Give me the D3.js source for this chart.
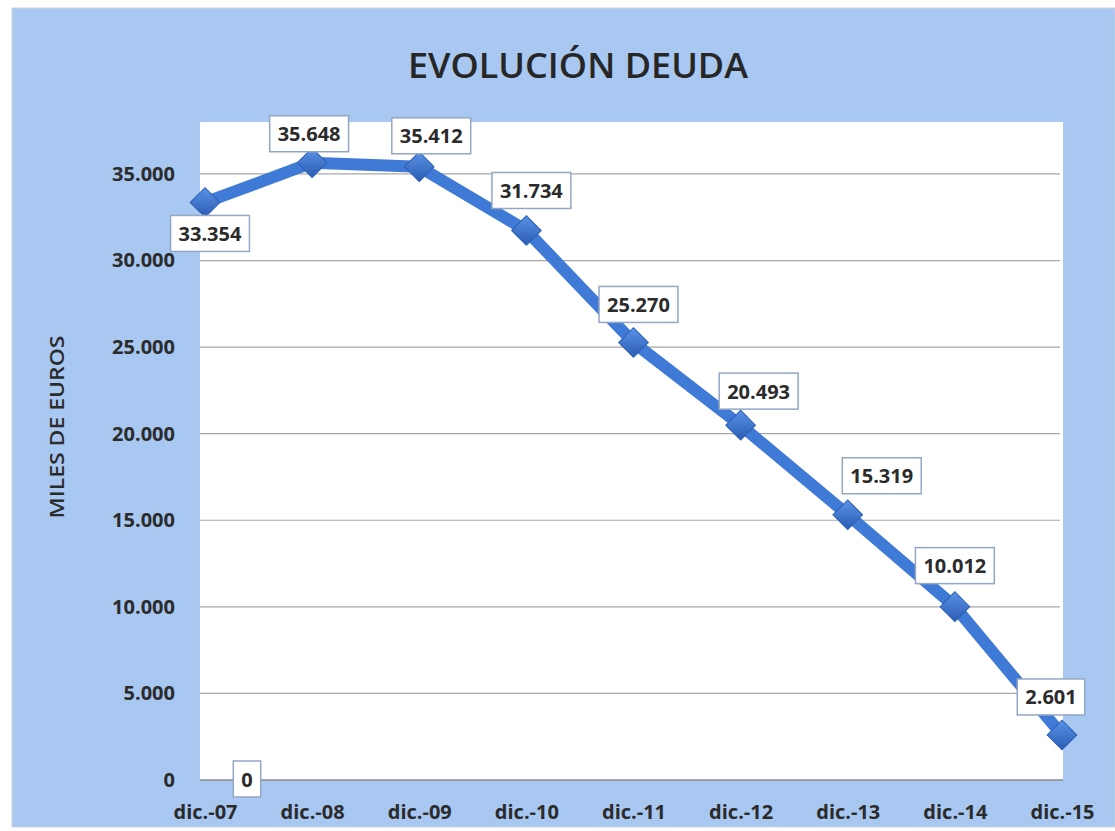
<!DOCTYPE html>
<html>
<head>
<meta charset="utf-8">
<script src="https://cdn.jsdelivr.net/npm/d3@7"></script>
<style>
  html, body { margin: 0; padding: 0; background: #ffffff; }
  svg { display: block; }
</style>
</head>
<body>
<svg id="chart" width="1115" height="831"></svg>
<script>
// ---- Data ----
const categories = ["dic.-07", "dic.-08", "dic.-09", "dic.-10", "dic.-11", "dic.-12", "dic.-13", "dic.-14", "dic.-15"];
const deuda = [33354, 35648, 35412, 31734, 25270, 20493, 15319, 10012, 2601];
const extraCategories = ["dic.-07"];
const extraValues = [0];
const yTicks = [0, 5000, 10000, 15000, 20000, 25000, 30000, 35000];
const titleText = "EVOLUCIÓN DEUDA";
const yAxisTitle = "MILES DE EUROS";

// ---- Layout (label offsets from the point, in px) ----
const labelOffsets = [[5, 31], [-3, -29], [12, -31], [5, -40], [5, -38], [18, -34], [34, -39], [0, -41], [-11, -38]];
const extraOffsets = [[42, -1]];

const W = 1115, H = 831;
const plot = { left: 200, right: 1063, top: 122, bottom: 780 };
const FONT = "Open Sans, sans-serif";

const svg = d3.select("#chart");
const defs = svg.append("defs");

// marker gradient
const grad = defs.append("linearGradient").attr("id", "mk").attr("x1", "0").attr("y1", "0").attr("x2", "1").attr("y2", "1");
grad.append("stop").attr("offset", "0%").attr("stop-color", "#5b93e6");
grad.append("stop").attr("offset", "100%").attr("stop-color", "#2a5cb3");

// outer chart background
svg.append("rect").attr("x", 12).attr("y", 8).attr("width", W - 12).attr("height", 819)
  .attr("fill", "#a8c7f1").attr("stroke", "#c9d3de").attr("stroke-width", 1);

// plot area
svg.append("rect").attr("x", plot.left).attr("y", plot.top)
  .attr("width", plot.right - plot.left).attr("height", plot.bottom - plot.top)
  .attr("fill", "#ffffff");

const fmt = v => d3.format(",")(v).replace(/,/g, ".");

const x = d3.scalePoint().domain(categories).range([205, 1062]);
const y = d3.scaleLinear().domain([0, 38000]).range([plot.bottom, plot.top]);

// gridlines
svg.append("g").selectAll("line").data(yTicks.filter(t => t > 0)).join("line")
  .attr("x1", plot.left).attr("x2", plot.right - 3)
  .attr("y1", d => y(d)).attr("y2", d => y(d))
  .attr("stroke", "#a8a8a8").attr("stroke-width", 1.2);

// y axis
const yAxis = d3.axisLeft(y).tickValues(yTicks).tickFormat(fmt).tickSize(0).tickPadding(25);
const gy = svg.append("g").attr("transform", `translate(${plot.left},0)`).call(yAxis);
gy.select(".domain").remove();
gy.selectAll("text").attr("font-family", FONT).attr("font-weight", "bold")
  .attr("font-size", 20).attr("fill", "#2b2b2b");

// x axis
const xAxis = d3.axisBottom(x).tickSize(0).tickPadding(25);
const gx = svg.append("g").attr("transform", `translate(0,${plot.bottom})`).call(xAxis);
gx.select(".domain").attr("d", `M${plot.left},0H${plot.right}`).attr("stroke", "#8a8a8a").attr("stroke-width", 1.5);
gx.selectAll("text").attr("font-family", FONT).attr("font-weight", "bold")
  .attr("font-size", 20).attr("fill", "#2b2b2b");

// line
const pts = categories.map((c, i) => ({ c, v: deuda[i], i }));
svg.append("path").datum(pts)
  .attr("d", d3.line().x(d => x(d.c)).y(d => y(d.v)))
  .attr("fill", "none").attr("stroke", "#3f7ad6").attr("stroke-width", 12)
  .attr("stroke-linejoin", "round");

// markers
const diamond = d3.symbol().type(d3.symbolSquare).size(440);
svg.append("g").selectAll("path").data(pts).join("path")
  .attr("d", diamond)
  .attr("transform", d => `translate(${x(d.c)},${y(d.v)}) rotate(45)`)
  .attr("fill", "url(#mk)").attr("stroke", "#2c5fb5").attr("stroke-width", 1);

// data labels
function drawLabel(cx, cy, text) {
  const g = svg.append("g");
  const t = g.append("text").attr("x", cx).attr("y", cy).attr("text-anchor", "middle")
    .attr("dominant-baseline", "central")
    .attr("font-family", FONT).attr("font-weight", "bold")
    .attr("font-size", 20).attr("fill", "#2b2b2b").text(text);
  const w = t.node().getComputedTextLength() + 16;
  g.insert("rect", "text").attr("x", cx - w / 2).attr("y", cy - 18).attr("width", w).attr("height", 36)
    .attr("fill", "#ffffff").attr("stroke", "#93a6c4").attr("stroke-width", 1.5);
}
pts.forEach((d, i) => {
  drawLabel(x(d.c) + labelOffsets[i][0], y(d.v) + labelOffsets[i][1], fmt(d.v));
});
extraCategories.forEach((c, i) => {
  drawLabel(x(c) + extraOffsets[i][0], y(extraValues[i]) + extraOffsets[i][1], fmt(extraValues[i]));
});

// title
svg.append("text").attr("x", 578).attr("y", 78).attr("text-anchor", "middle")
  .attr("font-family", FONT).attr("font-weight", 600)
  .attr("font-size", 35).attr("fill", "#262626")
  .attr("textLength", 340).attr("lengthAdjust", "spacingAndGlyphs")
  .text(titleText);

// y axis title
svg.append("text").attr("transform", "translate(64,427) rotate(-90)")
  .attr("text-anchor", "middle")
  .attr("font-family", FONT).attr("font-weight", 600)
  .attr("font-size", 20).attr("fill", "#2b2b2b")
  .attr("textLength", 183).attr("lengthAdjust", "spacingAndGlyphs")
  .text(yAxisTitle);
</script>
</body>
</html>
